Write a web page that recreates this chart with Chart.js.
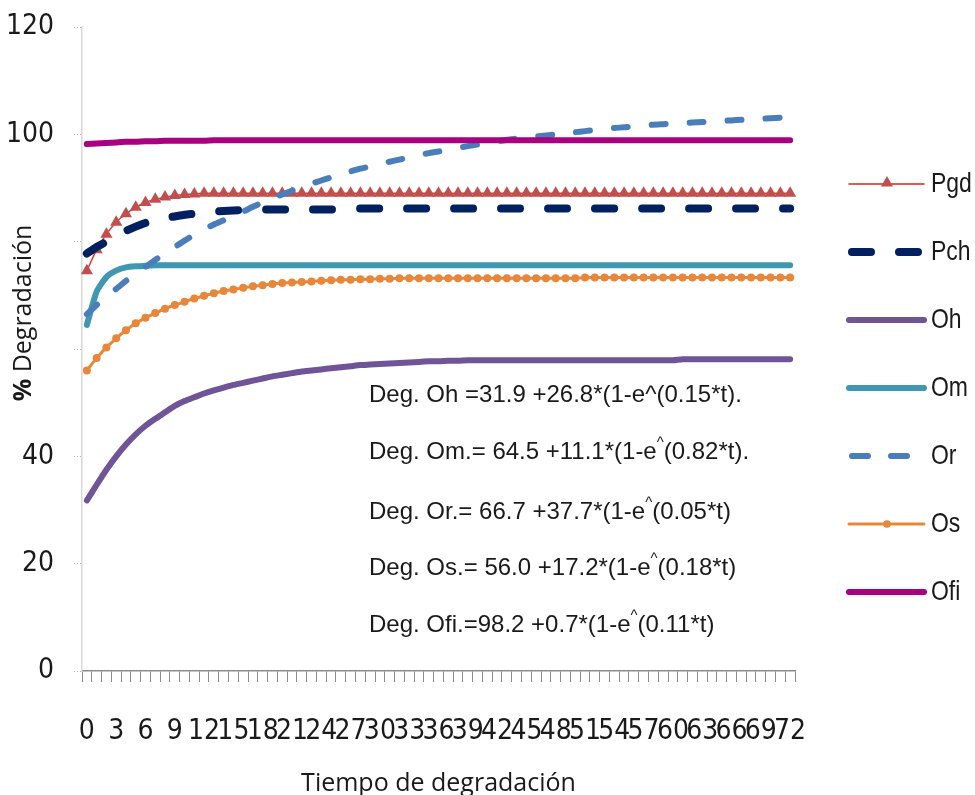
<!DOCTYPE html>
<html lang="es">
<head>
<meta charset="UTF-8">
<title>Tiempo de degradación</title>
<script src="https://cdn.jsdelivr.net/npm/chart.js"></script>
<style>
    html, body { margin: 0; padding: 0; background: #fff; }
    #wrap { width: 975px; height: 795px; position: relative; }
</style>
</head>
<body>
<div id="wrap"><canvas id="degChart"></canvas></div>
<script>
    // categorias del eje x (tiempo)
    const tiempos = [0,1,2,3,4,5,6,7,8,9,10,11,12,13,14,15,16,17,18,19,20,21,22,23,24,25,26,27,28,29,30,31,32,33,34,35,36,
        37,38,39,40,41,42,43,44,45,46,47,48,49,50,51,52,53,54,55,56,57,58,59,60,61,62,63,64,65,66,67,68,69,70,71,72];
    const xTickLabels = [0,3,6,9,12,15,18,21,24,27,30,33,36,39,42,45,48,51,54,57,60,63,66,69,72];
    const yTickLabels = [0,20,40,100,120];

    // series
    const pgd = [74.6,78.5,81.4,83.6,85.2,86.4,87.3,87.9,88.3,88.6,88.8,88.9,89.0,89.0,89.0,89.0,89.0,89.0,89.0,89.0,
        89.0,89.0,89.0,89.0,89.0,89.0,89.0,89.0,89.0,89.0,89.0,89.0,89.0,89.0,89.0,89.0,89.0,89.0,89.0,89.0,
        89.0,89.0,89.0,89.0,89.0,89.0,89.0,89.0,89.0,89.0,89.0,89.0,89.0,89.0,89.0,89.0,89.0,89.0,89.0,89.0,
        89.0,89.0,89.0,89.0,89.0,89.0,89.0,89.0,89.0,89.0,89.0,89.0,89.0];
    const pch = [77.8,79.0,80.0,81.0,82.0,82.8,83.5,84.0,84.4,84.7,85.0,85.2,85.4,85.6,85.7,85.8,85.9,86.0,86.0,86.0,
        86.0,86.0,86.0,86.0,86.0,86.0,86.0,86.2,86.2,86.2,86.2,86.2,86.2,86.2,86.2,86.2,86.2,86.2,86.2,86.2,
        86.2,86.2,86.2,86.2,86.2,86.2,86.2,86.2,86.2,86.2,86.2,86.2,86.2,86.2,86.2,86.2,86.2,86.2,86.2,86.2,
        86.2,86.2,86.2,86.2,86.2,86.2,86.2,86.2,86.2,86.2,86.2,86.2,86.2];
    const oh = [31.8,34.7,37.5,40.0,42.2,44.1,45.7,47.0,48.2,49.4,50.3,51.0,51.7,52.3,52.8,53.3,53.7,54.1,54.5,54.9,
        55.2,55.5,55.8,56.0,56.2,56.4,56.6,56.8,57.0,57.1,57.2,57.3,57.4,57.5,57.6,57.7,57.7,57.8,57.8,57.9,
        57.9,57.9,57.9,57.9,57.9,57.9,57.9,57.9,57.9,57.9,57.9,57.9,57.9,57.9,57.9,57.9,57.9,57.9,57.9,57.9,
        57.9,58.1,58.1,58.1,58.1,58.1,58.1,58.1,58.1,58.1,58.1,58.1,58.1];
    const om = [64.5,70.7,73.4,74.6,75.2,75.4,75.5,75.6,75.6,75.6,75.6,75.6,75.6,75.6,75.6,75.6,75.6,75.6,75.6,75.6,
        75.6,75.6,75.6,75.6,75.6,75.6,75.6,75.6,75.6,75.6,75.6,75.6,75.6,75.6,75.6,75.6,75.6,75.6,75.6,75.6,
        75.6,75.6,75.6,75.6,75.6,75.6,75.6,75.6,75.6,75.6,75.6,75.6,75.6,75.6,75.6,75.6,75.6,75.6,75.6,75.6,
        75.6,75.6,75.6,75.6,75.6,75.6,75.6,75.6,75.6,75.6,75.6,75.6,75.6];
    const orr = [66.5,68.2,69.9,71.2,72.7,74.1,75.3,76.6,77.8,79.0,80.2,81.3,82.3,83.2,84.0,84.8,85.6,86.5,87.3,88.1,
        88.8,89.5,90.2,90.8,91.4,92.0,92.6,93.1,93.6,94.0,94.5,94.9,95.3,95.7,96.1,96.5,96.8,97.2,97.5,97.8,
        98.1,98.4,98.7,99.0,99.2,99.4,99.6,99.8,100.0,100.2,100.4,100.6,100.8,101.0,101.2,101.3,101.5,101.6,101.8,101.9,
        102.0,102.1,102.2,102.3,102.4,102.5,102.6,102.7,102.8,102.9,103.0,103.1,103.2];
    const os = [56.0,58.3,60.3,62.0,63.5,64.8,65.8,66.7,67.5,68.2,68.8,69.4,69.9,70.4,70.8,71.1,71.4,71.7,71.9,72.1,
        72.3,72.4,72.5,72.6,72.7,72.8,72.9,72.9,73.0,73.0,73.1,73.1,73.2,73.2,73.2,73.2,73.2,73.2,73.2,73.2,
        73.2,73.2,73.2,73.2,73.2,73.2,73.2,73.2,73.2,73.2,73.2,73.3,73.3,73.3,73.3,73.3,73.3,73.3,73.3,73.3,
        73.3,73.3,73.3,73.3,73.3,73.3,73.3,73.3,73.3,73.3,73.3,73.3,73.3];
    const ofi = [98.2,98.3,98.4,98.5,98.6,98.6,98.7,98.7,98.8,98.8,98.8,98.8,98.8,98.9,98.9,98.9,98.9,98.9,98.9,98.9,
        98.9,98.9,98.9,98.9,98.9,98.9,98.9,98.9,98.9,98.9,98.9,98.9,98.9,98.9,98.9,98.9,98.9,98.9,98.9,98.9,
        98.9,98.9,98.9,98.9,98.9,98.9,98.9,98.9,98.9,98.9,98.9,98.9,98.9,98.9,98.9,98.9,98.9,98.9,98.9,98.9,
        98.9,98.9,98.9,98.9,98.9,98.9,98.9,98.9,98.9,98.9,98.9,98.9,98.9];

    const ecuaciones = [
        { txt: 'Deg. Oh =31.9 +26.8*(1-e^(0.15*t).', sup: false },
        { txt: 'Deg. Om.= 64.5 +11.1*(1-e^(0.82*t).', sup: true },
        { txt: 'Deg. Or.= 66.7 +37.7*(1-e^(0.05*t)', sup: true },
        { txt: 'Deg. Os.= 56.0 +17.2*(1-e^(0.18*t)', sup: true },
        { txt: 'Deg. Ofi.=98.2 +0.7*(1-e^(0.11*t)', sup: true }
    ];

    const narrow = "'Liberation Sans Narrow', 'Arial Narrow', 'DejaVu Sans Condensed', sans-serif";
    const eqFont = "'Liberation Sans', Arial, sans-serif";

    function triangle(ctx, x, y, r, color) {
        ctx.beginPath();
        ctx.moveTo(x, y - r);
        ctx.lineTo(x + r * 0.866, y + r / 2);
        ctx.lineTo(x - r * 0.866, y + r / 2);
        ctx.closePath();
        ctx.fillStyle = color;
        ctx.fill();
    }

    // texto estrecho (tipo Calibri condensada)
    function narrowText(ctx, txt, x, y, size) {
        ctx.save();
        ctx.translate(x, y);
        ctx.scale(0.82, 1);
        ctx.font = size + "px 'Liberation Sans', Arial, sans-serif";
        ctx.textAlign = 'left';
        ctx.textBaseline = 'middle';
        ctx.fillText(txt, 0, 0);
        ctx.restore();
    }

    // titulos, leyenda y ecuaciones
    const extras = {
        id: 'extras',
        afterDraw(chart) {
            const ctx = chart.ctx;
            const area = chart.chartArea;
            ctx.save();
            ctx.fillStyle = '#1a1a1a';
            ctx.textBaseline = 'middle';

            // titulo eje x
            ctx.font = "25px 'Open Sans'";
            ctx.textAlign = 'center';
            ctx.fillText('Tiempo de degradación', (area.left + area.right) / 2, 784);

            // titulo eje y
            ctx.save();
            ctx.translate(24, 313);
            ctx.rotate(-Math.PI / 2);
            ctx.textAlign = 'left';
            ctx.font = "bold 25px 'Open Sans'";
            const w1 = ctx.measureText('%').width;
            ctx.font = "25px 'Open Sans'";
            const w2 = ctx.measureText(' Degradación').width;
            const x0 = -(w1 + w2) / 2;
            ctx.font = "bold 25px 'Open Sans'";
            ctx.fillText('%', x0, 0);
            ctx.font = "25px 'Open Sans'";
            ctx.fillText(' Degradación', x0 + w1, 0);
            ctx.restore();

            // ecuaciones
            const eqY = [395, 452, 512, 568, 625];
            ctx.textAlign = 'left';
            ecuaciones.forEach((e, i) => {
                const y = eqY[i];
                let x = 369;
                ctx.font = '24px ' + eqFont;
                if (!e.sup) {
                    ctx.fillText(e.txt, x, y);
                    return;
                }
                const parts = e.txt.split('^');
                ctx.fillText(parts[0], x, y);
                x += ctx.measureText(parts[0]).width;
                ctx.font = '15px ' + eqFont;
                ctx.fillText('^', x, y - 9);
                x += ctx.measureText('^').width;
                ctx.font = '24px ' + eqFont;
                ctx.fillText(parts[1], x, y);
            });

            // leyenda
            chart.data.datasets.forEach((ds, i) => {
                const y = 184 + i * 68;
                ctx.save();
                ctx.strokeStyle = ds.legendColor || ds.borderColor;
                ctx.lineWidth = ds.legendWidth || ds.borderWidth;
                ctx.lineCap = 'round';
                if (ds.borderDash) ctx.setLineDash(ds.legendDash);
                ctx.beginPath();
                ctx.moveTo(ds.borderDash ? 852 : 849, y);
                ctx.lineTo(924, y);
                ctx.stroke();
                ctx.restore();
                if (ds.pointStyle === 'triangle') {
                    triangle(ctx, 887, y - 1, 7, ds.pointBackgroundColor);
                } else if (ds.pointRadius > 0) {
                    ctx.beginPath();
                    ctx.arc(887, y, 3.8, 0, Math.PI * 2);
                    ctx.fillStyle = ds.pointBackgroundColor;
                    ctx.fill();
                }
                ctx.fillStyle = '#1a1a1a';
                narrowText(ctx, ds.label, 931, y, 28);
            });
            ctx.restore();
        }
    };

    const ctx = document.getElementById('degChart').getContext('2d');
    new Chart(ctx, {
        type: 'line',
        data: {
            labels: tiempos,
            datasets: [
                { label: 'Pgd', data: pgd, borderColor: '#D23C38', borderWidth: 1.5, legendColor: '#E0201E',
                  pointStyle: 'triangle', pointRadius: 7, pointBackgroundColor: '#C0504D', pointBorderWidth: 0, order: 6 },
                { label: 'Pch', data: pch, borderColor: '#002060', borderWidth: 8, borderDash: [19, 28], legendDash: [19, 28],
                  borderCapStyle: 'round', pointRadius: 0, order: 5 },
                { label: 'Oh', data: oh, borderColor: '#6F5597', borderWidth: 6, borderCapStyle: 'round', pointRadius: 0, order: 4 },
                { label: 'Om', data: om, borderColor: '#3F97B1', borderWidth: 6, borderCapStyle: 'round', pointRadius: 0, order: 3 },
                { label: 'Or', data: orr, borderColor: '#4A7EBB', borderWidth: 6, borderDash: [14, 24], legendDash: [16, 23],
                  borderCapStyle: 'round', pointRadius: 0, order: 2 },
                { label: 'Os', data: os, borderColor: '#E8873A', borderWidth: 3, pointStyle: 'circle', pointRadius: 4,
                  pointBackgroundColor: '#E8873A', pointBorderWidth: 0, order: 1 },
                { label: 'Ofi', data: ofi, borderColor: '#A8007E', borderWidth: 6, borderCapStyle: 'round', pointRadius: 0, order: 0 }
            ]
        },
        options: {
            responsive: true,
            maintainAspectRatio: false,
            animation: false,
            layout: { padding: { top: 27, right: 180, left: 0, bottom: 0 } },
            plugins: { legend: { display: false }, tooltip: { enabled: false } },
            elements: { line: { tension: 0.2 } },
            scales: {
                x: {
                    type: 'category',
                    offset: true,
                    grid: { drawOnChartArea: false, drawTicks: true, tickLength: 11, tickColor: '#8c8c8c', offset: true },
                    border: { color: '#8c8c8c', width: 1.5 },
                    ticks: {
                        autoSkip: false, maxRotation: 0, minRotation: 0, padding: 33,
                        color: '#1a1a1a', font: { family: narrow, size: 28 },
                        callback: function (v) {
                            const lab = tiempos[v];
                            return xTickLabels.includes(lab) ? String(lab) : '';
                        }
                    },
                    afterFit(scale) {
                        scale.height = 124;
                        scale.paddingLeft = 0;
                        scale.paddingRight = 0;
                    }
                },
                y: {
                    min: 0, max: 120,
                    grid: { drawOnChartArea: false, drawTicks: true, tickLength: 8, tickColor: '#b5b5b5', tickBorderDash: [1, 2] },
                    border: { color: '#d9d9d9', width: 1.5 },
                    ticks: {
                        stepSize: 20, padding: 20, color: '#1a1a1a', font: { family: narrow, size: 28 },
                        callback: v => yTickLabels.includes(v) ? String(v) : ''
                    },
                    afterFit(scale) {
                        scale.width = 82;
                        scale.paddingTop = 0;
                        scale.paddingBottom = 0;
                    }
                }
            }
        },
        plugins: [extras]
    });
</script>
</body>
</html>
